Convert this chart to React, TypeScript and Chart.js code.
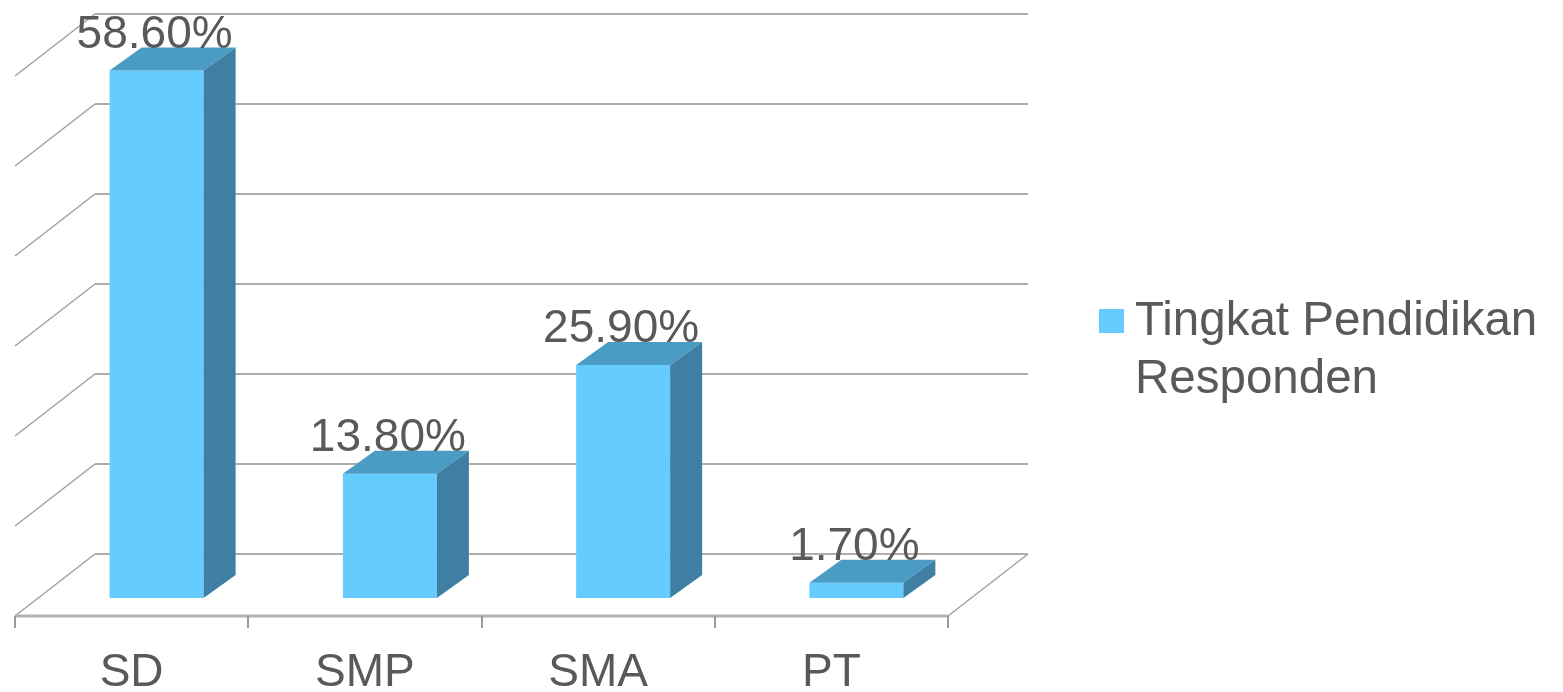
import React, { useEffect, useRef } from "react";
import Chart from "chart.js/auto";

// Education level of respondents (percent)
const categories: string[] = ["SD", "SMP", "SMA", "PT"];
const values: number[] = [58.6, 13.8, 25.9, 1.7];
const valueLabels: string[] = ["58.60%", "13.80%", "25.90%", "1.70%"];
const seriesNameLines: string[] = ["Tingkat Pendidikan", "Responden"];
const gridValues: number[] = [0, 10, 20, 30, 40, 50, 60];

const WIDTH = 1563;
const HEIGHT = 692;

const FONT = "'Liberation Sans', Arial, sans-serif";
const TEXT_COLOR = "#595959";
const FRONT_COLOR = "#66CCFF";
const TOP_COLOR = "#4A9CC5";
const SIDE_COLOR = "#3F7FA3";
const GRID_COLOR = "#ADADAD";

// Offsets of the floor's front edge and the back wall relative to the bar plane
const FRONT = { dx: -25, dy: 18 };
const BACK = { dx: 55, dy: -44 };
// Depth of each bar block
const BAR_DEPTH = { dx: 32, dy: -23 };

const line = (ctx: CanvasRenderingContext2D, x1: number, y1: number, x2: number, y2: number) => {
  ctx.beginPath();
  ctx.moveTo(x1, y1);
  ctx.lineTo(x2, y2);
  ctx.stroke();
};

const threeDPlugin = {
  id: "threeD",
  beforeDatasetsDraw(chart: any) {
    const { ctx, chartArea, scales } = chart;
    const y = scales.y;
    const x = scales.x;
    const { left, right } = chartArea;
    ctx.save();

    // back wall gridlines and left wall diagonals
    gridValues.forEach((v) => {
      const yy = y.getPixelForValue(v);
      ctx.strokeStyle = GRID_COLOR;
      ctx.lineWidth = 2;
      line(ctx, left + BACK.dx, yy + BACK.dy, right + BACK.dx, yy + BACK.dy);
      ctx.strokeStyle = "#A0A0A0";
      ctx.lineWidth = 1.5;
      line(ctx, left + FRONT.dx, yy + FRONT.dy, left + BACK.dx, yy + BACK.dy);
    });

    // floor: front edge, right edge, tick marks
    const y0 = y.getPixelForValue(0);
    const fl = left + FRONT.dx;
    const fr = right + FRONT.dx;
    const fy = y0 + FRONT.dy;
    ctx.strokeStyle = "#A0A0A0";
    ctx.lineWidth = 1.5;
    line(ctx, fr, fy, right + BACK.dx, y0 + BACK.dy);
    ctx.strokeStyle = "#B3B3B3";
    ctx.lineWidth = 3;
    line(ctx, fl, fy, fr, fy);
    ctx.strokeStyle = "#9A9A9A";
    ctx.lineWidth = 2;
    const step = (fr - fl) / categories.length;
    for (let i = 0; i <= categories.length; i++) {
      const tx = Math.round(fl + i * step);
      line(ctx, tx, fy, tx, fy + 12);
    }

    // category labels
    ctx.fillStyle = TEXT_COLOR;
    ctx.font = `46px ${FONT}`;
    ctx.textAlign = "center";
    ctx.textBaseline = "alphabetic";
    categories.forEach((c, i) => {
      const cx = x.getPixelForValue(i) + FRONT.dx;
      ctx.fillText(c, cx, fy + 70);
    });
    ctx.restore();
  },
  afterDatasetsDraw(chart: any) {
    const { ctx } = chart;
    const meta = chart.getDatasetMeta(0);
    ctx.save();
    meta.data.forEach((bar: any, i: number) => {
      const { x, y, base, width } = bar.getProps(["x", "y", "base", "width"], true);
      const x1 = x - width / 2;
      const x2 = x + width / 2;
      // top face
      ctx.fillStyle = TOP_COLOR;
      ctx.beginPath();
      ctx.moveTo(x1, y);
      ctx.lineTo(x2, y);
      ctx.lineTo(x2 + BAR_DEPTH.dx, y + BAR_DEPTH.dy);
      ctx.lineTo(x1 + BAR_DEPTH.dx, y + BAR_DEPTH.dy);
      ctx.closePath();
      ctx.fill();
      // side face
      ctx.fillStyle = SIDE_COLOR;
      ctx.beginPath();
      ctx.moveTo(x2, y);
      ctx.lineTo(x2 + BAR_DEPTH.dx, y + BAR_DEPTH.dy);
      ctx.lineTo(x2 + BAR_DEPTH.dx, base + BAR_DEPTH.dy);
      ctx.lineTo(x2, base);
      ctx.closePath();
      ctx.fill();

      // value label
      ctx.fillStyle = TEXT_COLOR;
      ctx.font = `46px ${FONT}`;
      ctx.textAlign = "center";
      ctx.textBaseline = "alphabetic";
      ctx.fillText(valueLabels[i], x - 2, y - 23);
    });

    // legend
    ctx.fillStyle = FRONT_COLOR;
    ctx.fillRect(1099, 309, 25, 24);
    ctx.fillStyle = TEXT_COLOR;
    ctx.font = `47.5px ${FONT}`;
    ctx.textAlign = "left";
    ctx.textBaseline = "alphabetic";
    seriesNameLines.forEach((t, i) => {
      ctx.fillText(t, 1135, 335 + i * 58);
    });
    ctx.restore();
  },
};

export default function App() {
  const canvasRef = useRef<HTMLCanvasElement | null>(null);

  useEffect(() => {
    const canvas = canvasRef.current;
    if (!canvas) return;
    const chart = new Chart(canvas, {
      type: "bar",
      data: {
        labels: categories,
        datasets: [
          {
            label: seriesNameLines.join(" "),
            data: values,
            backgroundColor: FRONT_COLOR,
            borderWidth: 0,
            categoryPercentage: 1,
            barPercentage: 0.403,
          },
        ],
      },
      options: {
        responsive: false,
        animation: false,
        devicePixelRatio: 1,
        layout: { padding: { left: 40, top: 58, right: WIDTH - 973, bottom: HEIGHT - 598 } },
        plugins: { legend: { display: false }, tooltip: { enabled: false } },
        scales: {
          x: { display: false },
          y: { display: false, min: 0, max: 60 },
        },
      },
      plugins: [threeDPlugin],
    });
    return () => chart.destroy();
  }, []);

  return (
    <div style={{ position: "absolute", left: 0, top: 0, width: WIDTH, height: HEIGHT, background: "#fff" }}>
      <canvas ref={canvasRef} width={WIDTH} height={HEIGHT} />
    </div>
  );
}
